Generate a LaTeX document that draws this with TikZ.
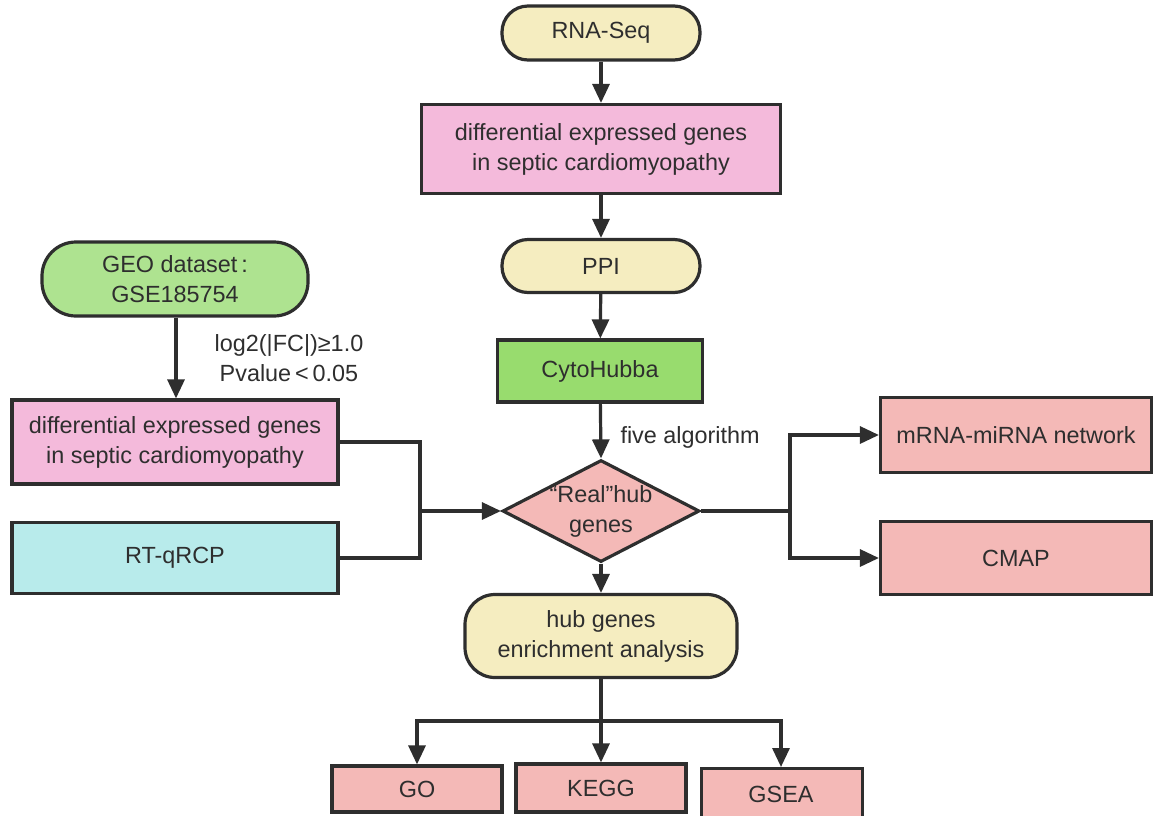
\documentclass[tikz,border=0pt]{standalone}
\usepackage{fontspec}
\setmainfont{Liberation Sans}
\usetikzlibrary{shapes.geometric,arrows.meta}
\definecolor{cream}{HTML}{F5EDC0}
\definecolor{pinkb}{HTML}{F4BADB}
\definecolor{greenA}{HTML}{AEE390}
\definecolor{greenB}{HTML}{98DC6E}
\definecolor{salmon}{HTML}{F4B9B7}
\definecolor{cyanb}{HTML}{B8EBEB}
\definecolor{ink}{HTML}{2E2E2E}
\begin{document}
\begin{tikzpicture}[x=1pt,y=-1pt,
  every node/.style={font=\fontsize{23.4}{30}\selectfont, text=ink, align=center},
  base/.style={draw=ink, line width=3.2pt, inner sep=0pt},
  pill/.style={base, rounded corners=26pt},
  boxx/.style={base},
  conn/.style={draw=ink, line width=3.2pt},
  arr/.style={conn, -{Triangle[length=19pt,width=17pt]}},
  lbl/.style={font=\fontsize{23.4}{30}\selectfont}
]
\useasboundingbox (0,0) rectangle (1162,815);
\fill[white] (0,0) rectangle (1162,815);

% central column
\node[pill, fill=cream, minimum width=198pt, minimum height=54pt] (rna) at (601,33) {RNA-Seq};
\node[boxx, fill=pinkb, minimum width=359pt, minimum height=89pt] (deg1) at (601,149) {differential expressed genes\\in septic cardiomyopathy};
\node[pill, fill=cream, minimum width=198pt, minimum height=53pt] (ppi) at (601,266) {PPI};
\node[boxx, fill=greenB, minimum width=205pt, minimum height=62pt] (cyto) at (600,371) {CytoHubba};
\node[diamond, base, fill=salmon, aspect=1.93, minimum width=197pt, minimum height=102pt] (hub) at (601,511) {};
\node at (601,511) {\textquotedblleft Real\textquotedblright hub\\genes};
\node[pill, fill=cream, minimum width=272pt, minimum height=83pt, rounded corners=30pt] (enr) at (601,636) {hub genes\\enrichment analysis};

% bottom boxes
\node[boxx, fill=salmon, minimum width=170pt, minimum height=46pt] (go) at (417,789) {GO};
\node[boxx, fill=salmon, minimum width=170pt, minimum height=48pt] (kegg) at (601,788) {KEGG};
\node[boxx, fill=salmon, minimum width=161pt, minimum height=52pt, anchor=north west] (gsea) at (700,767) {};
\node at (781,794) {GSEA};

% left column
\node[pill, fill=greenA, minimum width=266pt, minimum height=74pt, rounded corners=34pt] (geo) at (175,279) {GEO dataset\,:\\GSE185754};
\node[boxx, fill=pinkb, minimum width=326pt, minimum height=84pt] (deg2) at (175,442) {differential expressed genes\\in septic cardiomyopathy};
\node[boxx, fill=cyanb, minimum width=326pt, minimum height=71pt] (rt) at (175,558) {RT-qRCP};

% right column
\node[boxx, fill=salmon, minimum width=271pt, minimum height=75pt] (mrna) at (1016,435) {mRNA-miRNA network};
\node[boxx, fill=salmon, minimum width=271pt, minimum height=73pt] (cmap) at (1016,558) {CMAP};

% labels
\node[lbl] (lab1) at (289,358) {log2(|FC|)≥1.0\\Pvalue\,\textless\,0.05};
\node[lbl, anchor=west] (lab2) at (617,437) {five algorithm};

% connectors centre
\draw[arr] (rna) -- (deg1);
\draw[arr] (deg1) -- (ppi);
\draw[arr] (ppi) -- (cyto);
\draw[arr] (cyto) -- (hub.north);
\draw[arr] (hub.south) -- (enr.north);
\draw[arr] (geo.south -| 176,0) -- (deg2.north -| 176,0);

% merge to hub
\coordinate (mj) at (420,511);
\draw[conn] (deg2.east) -| (mj);
\draw[conn] (rt.east) -| (mj);
\draw[arr] (mj) -- (hub.west);

% right branch
\coordinate (rj) at (790,511);
\draw[conn] (hub.east) -- (rj);
\draw[arr] (rj) |- (mrna.west);
\draw[arr] (rj) |- (cmap.west);

% bottom branch
\coordinate (bj) at (601,721);
\draw[conn] (enr.south) -- (bj);
\draw[arr] (bj) -| (go.north);
\draw[arr] (bj) -- (kegg.north);
\draw[arr] (bj) -| (781,767);
\end{tikzpicture}
\end{document}
